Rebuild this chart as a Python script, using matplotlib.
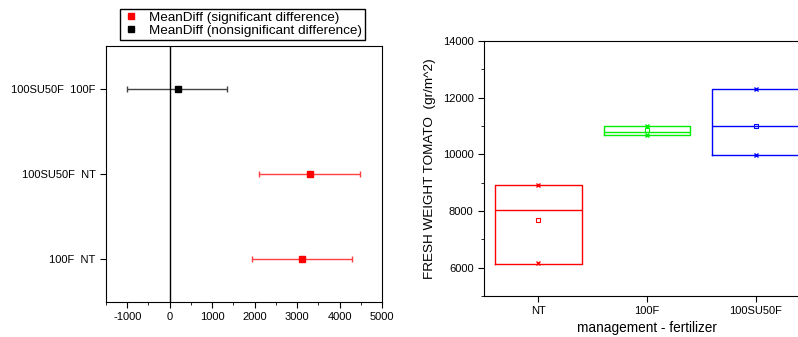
import numpy as np
import matplotlib.pyplot as plt
from matplotlib.ticker import MultipleLocator

plt.rcParams['font.family'] = ['Liberation Sans', 'DejaVu Sans']
plt.rcParams['axes.unicode_minus'] = False

# left panel: mean differences with confidence intervals
pairs = ['100F  NT', '100SU50F  NT', '100SU50F  100F']
mean_diff = [3120, 3310, 190]
ci_low = [1930, 2115, -1005]
ci_high = [4300, 4485, 1360]
significant = [True, True, False]

# right panel: box summaries
groups = ['NT', '100F', '100SU50F']
q1 = [6140, 10700, 9990]
q3 = [8920, 10995, 12290]
median = [8030, 10800, 10995]
means = [7690, 10860, 11000]
mins = [6150, 10690, 9990]
maxs = [8920, 11010, 12290]
box_colors = ['#ff0000', '#00ee00', '#0000ff']

fig = plt.figure(figsize=(7.98, 3.37), dpi=100)

ax1 = fig.add_axes([0.1328, 0.1039, 0.3459, 0.7596])
ypos = np.arange(1, len(pairs) + 1)
for y, m, lo, hi, sig in zip(ypos, mean_diff, ci_low, ci_high, significant):
    c = '#ff0000' if sig else '#000000'
    lc = '#ff4040' if sig else '#444444'
    ax1.errorbar(m, y, xerr=[[m - lo], [hi - m]], fmt='none', ecolor=lc,
                 elinewidth=1.0, capsize=2.5, capthick=1.0)
    ax1.plot(m, y, 's', color=c, markersize=5)
ax1.axvline(0, color='black', lw=1.0)
ax1.set_xlim(-1500, 5000)
ax1.set_ylim(0.5, 3.5)
ax1.set_yticks(ypos)
ax1.set_yticklabels(pairs)
ax1.set_xticks(np.arange(-1000, 5001, 1000))
ax1.xaxis.set_minor_locator(MultipleLocator(500))
ax1.tick_params(labelsize=8, direction='out', length=4)
ax1.tick_params(which='minor', length=2)

h1, = ax1.plot([], [], 's', color='#ff0000', markersize=4)
h2, = ax1.plot([], [], 's', color='#000000', markersize=4)
fig.legend([h1, h2], ['MeanDiff (significant difference)', 'MeanDiff (nonsignificant difference)'],
           loc='upper left', bbox_to_anchor=(113 / 798, 1 - 2 / 337), fontsize=9.7,
           frameon=True, fancybox=False, edgecolor='black', framealpha=1,
           handletextpad=0.8, borderpad=0.2, labelspacing=0.05, handlelength=1.2)

ax2 = fig.add_axes([0.6065, 0.1217, 0.4085, 0.7566])
stats = []
for i in range(len(groups)):
    stats.append(dict(q1=q1[i], q3=q3[i], med=median[i], mean=means[i],
                      whislo=q1[i], whishi=q3[i], fliers=[]))
xs = np.arange(1, len(groups) + 1)
bp = ax2.bxp(stats, positions=xs, widths=0.8, showcaps=False, showmeans=True,
             showfliers=False, patch_artist=False)
for i, c in enumerate(box_colors):
    bp['boxes'][i].set_color(c)
    bp['boxes'][i].set_linewidth(1.0)
    bp['medians'][i].set_color(c)
    bp['medians'][i].set_linewidth(1.0)
    bp['means'][i].set_marker('s')
    bp['means'][i].set_markerfacecolor('none')
    bp['means'][i].set_markeredgecolor(c)
    bp['means'][i].set_markersize(3)
    bp['means'][i].set_markeredgewidth(0.8)
for w in bp['whiskers']:
    w.set_visible(False)
for x, lo, hi, c in zip(xs, mins, maxs, box_colors):
    ax2.plot([x, x], [lo, hi], 'x', color=c, markersize=3, mew=1.0, linestyle='none')
ax2.set_xlim(0.5, 3.5)
ax2.set_ylim(5000, 14000)
ax2.set_xticks(xs)
ax2.set_xticklabels(groups)
ax2.set_yticks(np.arange(6000, 14001, 2000))
ax2.yaxis.set_minor_locator(MultipleLocator(1000))
ax2.tick_params(labelsize=8, direction='out', length=4)
ax2.tick_params(which='minor', length=2)
ax2.set_ylabel('FRESH WEIGHT TOMATO  (gr/m^2)', fontsize=9.7, labelpad=5)
ax2.set_xlabel('management - fertilizer', fontsize=9.8, labelpad=3)

fig.savefig('out.png', dpi=100)
